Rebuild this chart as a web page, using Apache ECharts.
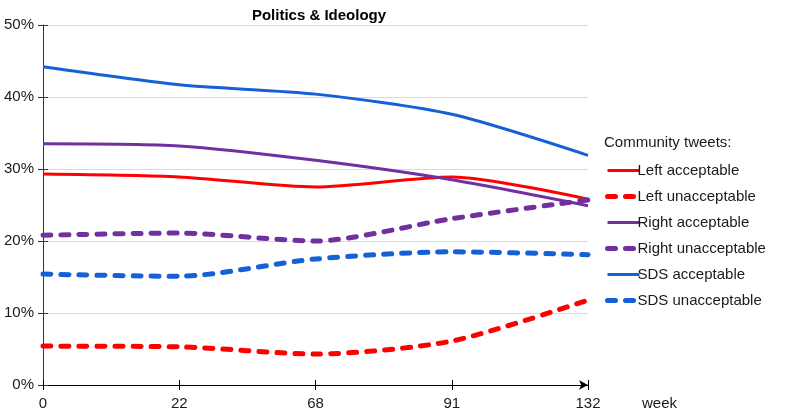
<!DOCTYPE html>
<html><head><meta charset="utf-8">
<script src="https://cdn.jsdelivr.net/npm/echarts@6/dist/echarts.min.js"></script>
<style>html,body{margin:0;padding:0;background:#fff}#c{width:788px;height:411px}</style>
</head><body><div id="c"></div>
<script>
const weeks = ['0', '22', '68', '91', '132'];
const yTicks = [0, 10, 20, 30, 40, 50];
const leftAcceptable = [29.3, 28.9, 27.5, 28.9, 25.8];
const leftUnacceptable = [5.4, 5.3, 4.3, 6.1, 11.8];
const rightAcceptable = [33.5, 33.2, 31.2, 28.5, 24.9];
const rightUnacceptable = [20.8, 21.1, 20.0, 23.1, 25.7];
const sdsAcceptable = [44.2, 41.7, 40.4, 37.6, 31.9];
const sdsUnacceptable = [15.4, 15.1, 17.5, 18.5, 18.1];
const seriesNames = ['Left acceptable', 'Left unacceptable', 'Right acceptable', 'Right unacceptable', 'SDS acceptable', 'SDS unacceptable'];

const RED = '#ff0000', PURPLE = '#7030a0', BLUE = '#1560d6';
const FONT = 'Liberation Sans, Arial, sans-serif';
const SOLID = { width: 3, type: 'solid' };
const DASHED = { width: 5, type: [8, 10], cap: 'round' };

function mk(name, data, color, dashed) {
  return {
    name, type: 'line', data, smooth: 0.25, symbol: 'none',
    lineStyle: Object.assign({ color }, dashed ? DASHED : SOLID),
    itemStyle: { color }
  };
}

const chart = echarts.init(document.getElementById('c'), null, { renderer: 'canvas' });
chart.setOption({
  animation: false,
  title: { text: 'Politics & Ideology', left: 314, textAlign: 'center', top: 3,
    textStyle: { fontFamily: FONT, fontSize: 15, fontWeight: 'bold', color: '#000' } },
  grid: { left: 43, right: 200, top: 25, bottom: 26 },
  legend: {
    orient: 'vertical', left: 600, top: 158, itemGap: 11, itemWidth: 32, itemHeight: 15,
    itemStyle: { opacity: 0 },
    textStyle: { fontFamily: FONT, fontSize: 15, color: '#1a1a1a', padding: [0,0,0,-7] },
    data: seriesNames.map((n, i) => ({ name: n, lineStyle: Object.assign({}, i % 2 ? DASHED : SOLID) }))
  },
  graphic: [{ type: 'text', left: 604, top: 135,
    style: { text: 'Community tweets:', font: '15px ' + FONT, fill: '#1a1a1a' } }],
  xAxis: [{
    type: 'category', data: weeks, boundaryGap: false,
    axisLine: { lineStyle: { color: '#000', width: 1 }, symbol: ['none', 'arrow'], symbolSize: [7, 9] },
    axisTick: { show: true, length: 5, lineStyle: { color: '#000' } },
    axisLabel: { fontFamily: FONT, fontSize: 15, color: '#1a1a1a', margin: 11 },
    name: 'week', nameLocation: 'end', nameGap: 54,
    nameTextStyle: { fontFamily: FONT, fontSize: 15, color: '#1a1a1a', verticalAlign: 'top', padding: [11, 0, 0, 0] }
  }, {
    type: 'category', data: weeks, boundaryGap: false, position: 'bottom',
    axisLine: { show: false }, axisTick: { show: true, inside: true, length: 5, lineStyle: { color: '#000' } },
    axisLabel: { show: false }
  }],
  yAxis: [{
    type: 'value', min: yTicks[0], max: yTicks[yTicks.length - 1], interval: 10,
    axisLine: { show: true, lineStyle: { color: '#333', width: 1 } },
    axisTick: { show: true, length: 5, lineStyle: { color: '#333' } },
    axisLabel: { formatter: '{value}%', fontFamily: FONT, fontSize: 15, color: '#1a1a1a', margin: 9 },
    splitLine: { lineStyle: { color: '#d9d9d9', width: 1 } }
  }, {
    type: 'value', min: yTicks[0], max: yTicks[yTicks.length - 1], interval: 10, position: 'left',
    axisLine: { show: false }, axisTick: { show: true, inside: true, length: 5, lineStyle: { color: '#333' } },
    axisLabel: { show: false }, splitLine: { show: false }
  }],
  series: [
    mk(seriesNames[0], leftAcceptable, RED, false),
    mk(seriesNames[1], leftUnacceptable, RED, true),
    mk(seriesNames[2], rightAcceptable, PURPLE, false),
    mk(seriesNames[3], rightUnacceptable, PURPLE, true),
    mk(seriesNames[4], sdsAcceptable, BLUE, false),
    mk(seriesNames[5], sdsUnacceptable, BLUE, true)
  ]
});
</script></body></html>
